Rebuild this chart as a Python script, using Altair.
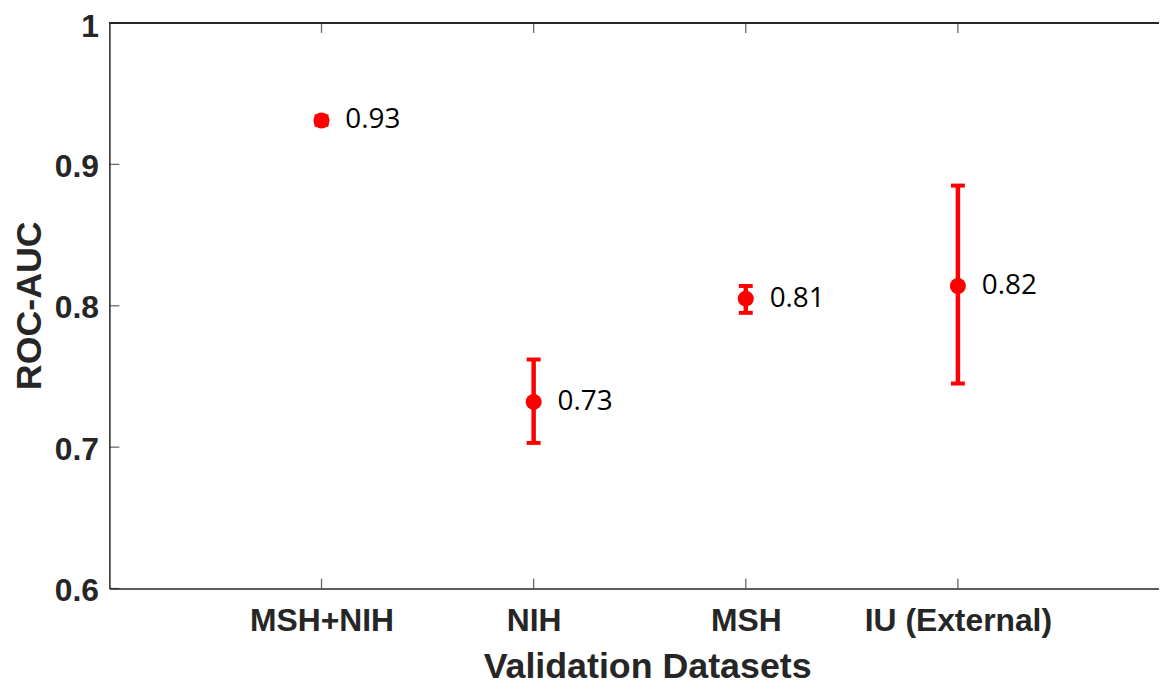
import altair as alt
import pandas as pd

# ---- data ----
categories = ["MSH+NIH", "NIH", "MSH", "IU (External)"]
positions = [1, 2, 3, 4]
auc = [0.931, 0.732, 0.805, 0.814]
lower = [0.928, 0.703, 0.795, 0.745]
upper = [0.934, 0.762, 0.814, 0.885]
value_labels = ["0.93", "0.73", "0.81", "0.82"]
y_ticks = [0.6, 0.7, 0.8, 0.9, 1.0]

X_MAX = 4.948
RED = "#FF0000"
AXIS_COLOR = "#262626"
FONT = "Liberation Sans"

df = pd.DataFrame({
    "x": positions,
    "name": categories,
    "auc": auc,
    "lower": lower,
    "upper": upper,
    "label": value_labels,
})
yt = pd.DataFrame({"y": y_ticks})
xt = pd.DataFrame({"x": positions})

x_scale = alt.Scale(domain=[0, X_MAX], nice=False, zero=False)
y_scale = alt.Scale(domain=[0.6, 1.0], nice=False, zero=False)

name_arr = "['', " + ", ".join("'" + c + "'" for c in categories) + "]"

x_axis = alt.Axis(
    values=positions,
    labelExpr=name_arr + "[datum.value]",
    ticks=False, grid=False,
    domainColor=AXIS_COLOR, domainWidth=1.5,
    labelFont=FONT, labelFontSize=32, labelFontWeight="bold", labelColor=AXIS_COLOR,
    labelPadding=17, labelFlush=False, labelOverlap=False, labelLimit=0,
    title="Validation Datasets", titleFont=FONT, titleFontSize=36, titleFontWeight="bold",
    titleColor=AXIS_COLOR, titleX=541, titleY=89, titleBaseline="alphabetic", titleAlign="center",
)
y_axis = alt.Axis(
    values=y_ticks,
    labelExpr="datum.value == 1 ? '1' : format(datum.value, '.1f')",
    ticks=False, grid=False,
    domainColor=AXIS_COLOR, domainWidth=1.5,
    labelFont=FONT, labelFontSize=32, labelFontWeight="bold", labelColor=AXIS_COLOR,
    labelPadding=11, labelFlush=False, labelOverlap=False, labelLimit=0,
    labelOffset=alt.condition("datum.value == 1", alt.value(4), alt.value(2)),
    title="ROC-AUC", titleFont=FONT, titleFontSize=36, titleFontWeight="bold",
    titleColor=AXIS_COLOR, titleX=-69, titleY=284, titleBaseline="alphabetic",
    titleAlign="center", titleAngle=270,
)

base = alt.Chart(df)
X = alt.X("x:Q", scale=x_scale, axis=x_axis)
Y = alt.Y("auc:Q", scale=y_scale, axis=y_axis)

bars = base.mark_rule(color=RED, strokeWidth=4.5).encode(
    x=X, y=alt.Y("lower:Q", scale=y_scale, axis=y_axis), y2="upper:Q"
)
cap_lo = base.mark_tick(orient="horizontal", size=14, thickness=4, color=RED, opacity=1).encode(
    x=X, y=alt.Y("lower:Q", scale=y_scale, axis=y_axis)
)
cap_hi = base.mark_tick(orient="horizontal", size=14, thickness=4, color=RED, opacity=1).encode(
    x=X, y=alt.Y("upper:Q", scale=y_scale, axis=y_axis)
)
points = base.mark_circle(size=260, color=RED, opacity=1).encode(x=X, y=Y)
texts = base.mark_text(align="left", baseline="middle", dx=24, font="Open Sans",
                       fontSize=28, color="black").encode(x=X, y=Y, text="label:N")

# inward frame ticks and top border
left_ticks = alt.Chart(yt).mark_tick(orient="horizontal", size=10, thickness=1.3,
                                     color=AXIS_COLOR, xOffset=5).encode(
    x=alt.datum(0, scale=x_scale), y=alt.Y("y:Q", scale=y_scale, axis=y_axis)
)
bottom_ticks = alt.Chart(xt).mark_tick(orient="vertical", size=10, thickness=1.3,
                                       color=AXIS_COLOR, yOffset=-5).encode(
    x=alt.X("x:Q", scale=x_scale, axis=x_axis), y=alt.datum(0.6)
)
top_ticks = alt.Chart(xt).mark_tick(orient="vertical", size=10, thickness=1.3,
                                    color=AXIS_COLOR, yOffset=5).encode(
    x=alt.X("x:Q", scale=x_scale, axis=x_axis), y=alt.datum(1.0)
)
top_border = alt.Chart(xt).mark_rule(color=AXIS_COLOR, strokeWidth=1.5).encode(
    x=alt.datum(0), x2=alt.datum(X_MAX), y=alt.datum(1.0)
)

chart = alt.layer(
    top_border, left_ticks, bottom_ticks, top_ticks,
    bars, cap_lo, cap_hi, points, texts
).properties(
    width=1056, height=569,
    padding={"left": 102, "top": 13, "right": 0, "bottom": 100},
    autosize=alt.AutoSizeParams(type="none"),
    background="white",
).configure_view(stroke=None)

chart.save("out.html", embed_options={"renderer": "svg", "actions": False})
